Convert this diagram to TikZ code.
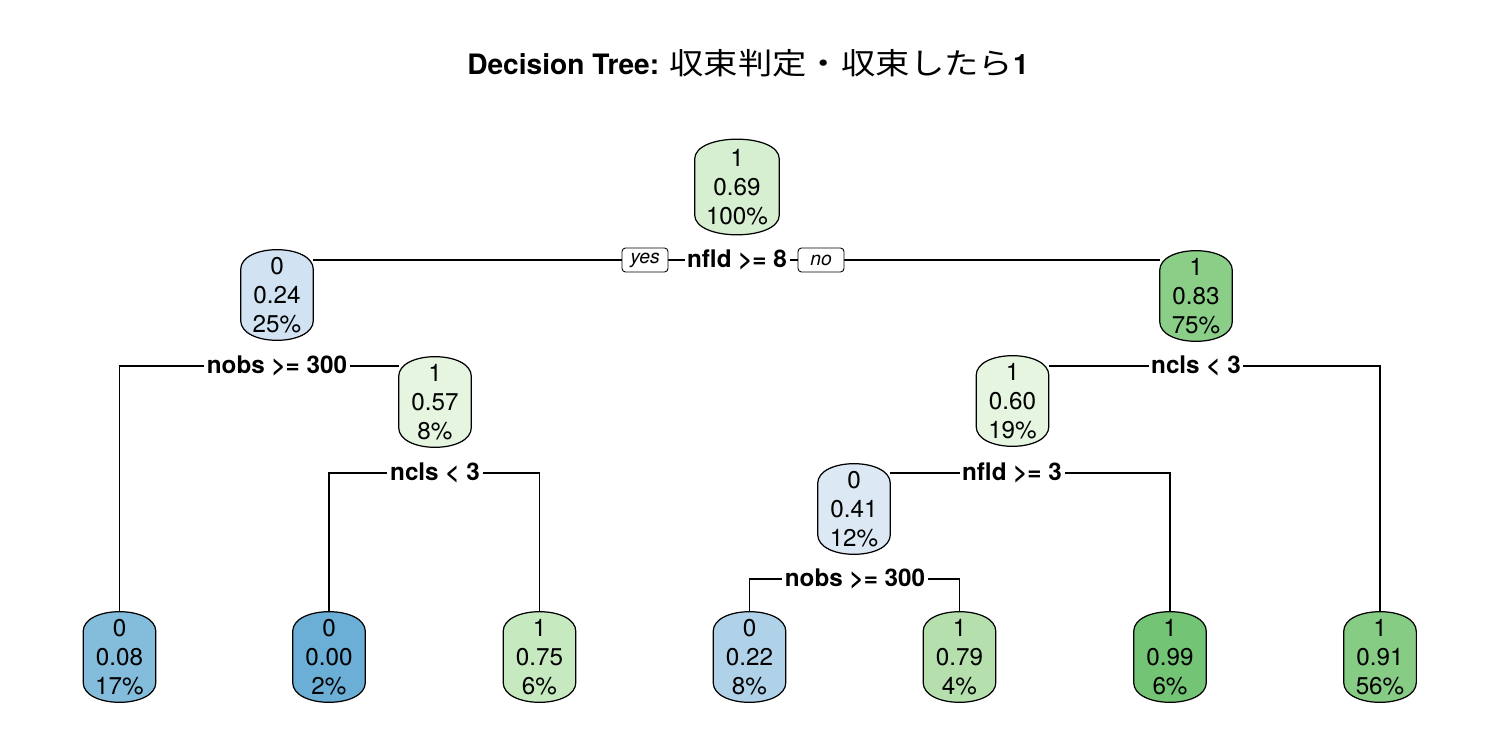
\documentclass[tikz,border=0pt]{standalone}
\usepackage{fontspec}
\setmainfont{TeX Gyre Heros}
\newfontfamily\cjk[FakeStretch=1.15]{Noto Sans CJK JP}
\usetikzlibrary{backgrounds}

\definecolor{cRoot}{RGB}{214,239,208}
\definecolor{cA}{RGB}{209,227,243}
\definecolor{cB}{RGB}{138,206,136}
\definecolor{cC}{RGB}{229,245,224}
\definecolor{cD}{RGB}{220,233,245}
\definecolor{cE}{RGB}{132,188,219}
\definecolor{cF}{RGB}{107,174,214}
\definecolor{cG}{RGB}{199,233,192}
\definecolor{cH}{RGB}{176,210,232}
\definecolor{cI}{RGB}{181,224,174}
\definecolor{cJ}{RGB}{116,196,118}
\definecolor{cK}{RGB}{135,204,133}

\tikzset{
	tnode/.style={minimum width=1.44cm, minimum height=1.8cm, inner sep=0pt,
		align=center, font=\fontsize{13.8}{16.5}\selectfont},
	rootnode/.style={tnode, minimum width=1.68cm, minimum height=1.9cm},
	split/.style={fill=white, inner sep=1.5pt,
		font=\fontsize{13.8}{16.5}\selectfont\bfseries},
	yesno/.style={draw, fill=white, rounded corners=2pt, line width=0.5pt,
		minimum width=0.92cm, minimum height=0.48cm, inner sep=0pt,
		font=\fontsize{11}{13}\selectfont\itshape},
	edge/.style={line width=0.6pt},
}

\begin{document}
\begin{tikzpicture}[x=0.02cm, y=-0.02cm]
	%\draw[help lines] (0,0) grid[step=100] (1500,750);
	\useasboundingbox (0,0) rectangle (1500,750);

	\path
	coordinate (pRoot) at (737,187)
	coordinate (p24) at (277,295)
	coordinate (p83) at (1196,296)
	coordinate (p57) at (435,402)
	coordinate (p60) at (1012.5,401)
	coordinate (p41) at (854,509)
	coordinate (p08) at (119.5,657)
	coordinate (p00) at (329,657)
	coordinate (p75) at (539.5,657)
	coordinate (p22) at (749.5,657)
	coordinate (p79) at (959.5,657)
	coordinate (p99) at (1170,657)
	coordinate (p91) at (1380,657)
	;

	\node (title) at (748,63) {\fontsize{16}{19}\selectfont\bfseries
		Decision Tree: {\cjk\mdseries\fontsize{17}{19}\selectfont 収束判定・収束したら}1};

	% tree nodes
	\node[rootnode] (root) at (pRoot) {1\\0.69\\100\%};
	\node[tnode] (n24) at (p24) {0\\0.24\\25\%};
	\node[tnode] (n83) at (p83) {1\\0.83\\75\%};
	\node[tnode] (n57) at (p57) {1\\0.57\\8\%};
	\node[tnode] (n60) at (p60) {1\\0.60\\19\%};
	\node[tnode] (n41) at (p41) {0\\0.41\\12\%};
	\node[tnode] (l08) at (p08) {0\\0.08\\17\%};
	\node[tnode] (l00) at (p00) {0\\0.00\\2\%};
	\node[tnode] (l75) at (p75) {1\\0.75\\6\%};
	\node[tnode] (l22) at (p22) {0\\0.22\\8\%};
	\node[tnode] (l79) at (p79) {1\\0.79\\4\%};
	\node[tnode] (l99) at (p99) {1\\0.99\\6\%};
	\node[tnode] (l91) at (p91) {1\\0.91\\56\%};

	% split labels
	\node[split] (sRoot) at (737,260) {nfld >= 8};
	\node[yesno] (yes) at (645,260) {yes};
	\node[yesno] (no) at (821,260) {no};
	\node[split] (s24) at (277,366) {nobs >= 300};
	\node[split] (s83) at (1196,366) {ncls < 3};
	\node[split] (s57) at (435,473) {ncls < 3};
	\node[split] (s60) at (1012,473) {nfld >= 3};
	\node[split] (s41) at (855,579) {nobs >= 300};

	\begin{scope}[on background layer]
		\draw[edge] (n24.east |- sRoot) -- (n83.west |- sRoot);
		\draw[edge] (l08.north) |- (n57.west |- s24);
		\draw[edge] (n60.east |- s83) -| (l91.north);
		\draw[edge] (l00.north) |- (s57) -| (l75.north);
		\draw[edge] (n41.east |- s60) -| (l99.north);
		\draw[edge] (l22.north) |- (s41) -| (l79.north);

		\foreach \n/\c in {root/cRoot, n24/cA, n83/cB, n57/cC, n60/cC, n41/cD,
			l08/cE, l00/cF, l75/cG, l22/cH, l79/cI, l99/cJ, l91/cK}
		{
			\filldraw[fill=\c, line width=0.7pt]
			([yshift=-0.4cm]\n.north west)
			.. controls ([yshift=0.133cm]\n.north west) and ([yshift=0.133cm]\n.north east) ..
			([yshift=-0.4cm]\n.north east)
			-- ([yshift=0.4cm]\n.south east)
			.. controls ([yshift=-0.133cm]\n.south east) and ([yshift=-0.133cm]\n.south west) ..
			([yshift=0.4cm]\n.south west)
			-- cycle;
		}
	\end{scope}

\end{tikzpicture}
\end{document}
